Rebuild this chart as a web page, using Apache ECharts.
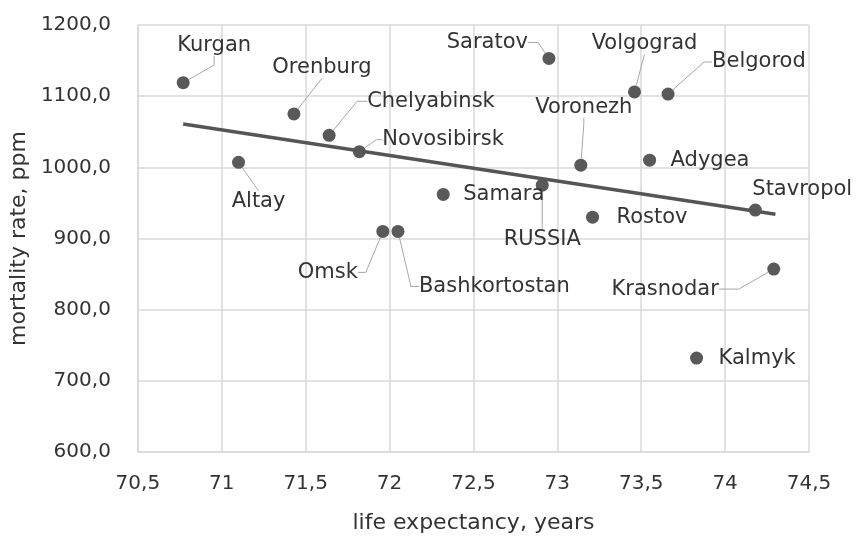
<!DOCTYPE html>
<html>
<head>
<meta charset="utf-8">
<script src="https://cdn.jsdelivr.net/npm/echarts@6/dist/echarts.min.js"></script>
<style>
  html, body { margin: 0; padding: 0; background: #fff; }
  #chart { width: 860px; height: 541px; }
</style>
</head>
<body>
<div id="chart"></div>
<script>
// data
const regions = ['Kurgan', 'Orenburg', 'Chelyabinsk', 'Novosibirsk', 'Altay', 'Omsk', 'Bashkortostan',
  'Samara', 'RUSSIA', 'Saratov', 'Volgograd', 'Belgorod', 'Voronezh', 'Adygea', 'Rostov',
  'Stavropol', 'Krasnodar', 'Kalmyk']
const lifeExpectancy = [70.77, 71.43, 71.64, 71.82, 71.10, 71.96, 72.05,
  72.32, 72.91, 72.95, 73.46, 73.66, 73.14, 73.55, 73.21,
  74.18, 74.29, 73.83]
const mortality = [1119, 1075, 1045, 1022, 1007, 910, 910,
  962, 975, 1153, 1106, 1103, 1003, 1010, 930,
  940, 857, 732]
const trendX = [70.77, 74.30]
const trendY = [1061, 934]

// label placement: [dx, dy, align, leader elbow length] (-1 = no leader)
const labelPlace = {
  Kurgan: [31, -37, 'center', 9],
  Orenburg: [28, -46, 'center', 0],
  Chelyabinsk: [38, -34, 'left', 10],
  Novosibirsk: [23, -12, 'left', 6],
  Altay: [20, 39, 'center', 0],
  Omsk: [-25, 41, 'right', 8],
  Bashkortostan: [21, 55, 'left', 8],
  Samara: [20, 0, 'left', -1],
  RUSSIA: [0, 54, 'center', 4],
  Saratov: [-21, -16, 'right', 10],
  Volgograd: [10, -48, 'center', 0],
  Belgorod: [44, -32, 'left', 8],
  Voronezh: [3, -58, 'center', 6],
  Adygea: [21, 0, 'left', -1],
  Rostov: [24, 0, 'left', -1],
  Stavropol: [-3, -20, 'left', -1],
  Krasnodar: [-55, 20, 'right', 20],
  Kalmyk: [22, 0, 'left', -1]
}

const font = 'DejaVu Sans'
const comma = v => String(v).replace('.', ',')

const points = regions.map((name, i) => {
  const p = labelPlace[name]
  return {
    name: name,
    value: [lifeExpectancy[i], mortality[i]],
    labelLine: { show: p[3] >= 0, length2: Math.max(p[3], 0) }
  }
})

const chart = echarts.init(document.getElementById('chart'))
chart.setOption({
  animation: false,
  grid: { left: 137, right: 51, top: 25, bottom: 89 },
  xAxis: {
    type: 'value',
    min: 70.5,
    max: 74.5,
    interval: 0.5,
    name: 'life expectancy, years',
    nameLocation: 'middle',
    nameGap: 60,
    nameTextStyle: { fontFamily: font, fontSize: 22, color: '#333' },
    axisLine: { lineStyle: { color: '#d9d9d9', width: 1.5 } },
    axisTick: { show: false },
    axisLabel: { fontFamily: font, fontSize: 20, color: '#333', margin: 22, formatter: comma },
    splitLine: { lineStyle: { color: '#d9d9d9', width: 1.5 } }
  },
  yAxis: {
    type: 'value',
    min: 600,
    max: 1200,
    interval: 100,
    name: 'mortality rate, ppm',
    nameLocation: 'middle',
    nameGap: 103,
    nameTextStyle: { fontFamily: font, fontSize: 22, color: '#333' },
    axisLine: { show: true, lineStyle: { color: '#d9d9d9', width: 1.5 } },
    axisTick: { show: false },
    axisLabel: { fontFamily: font, fontSize: 20, color: '#333', margin: 27,
      formatter: v => v.toFixed(1).replace('.', ',') },
    splitLine: { lineStyle: { color: '#d9d9d9', width: 1.5 } }
  },
  series: [
    {
      type: 'scatter',
      symbolSize: 13,
      itemStyle: { color: '#595959', opacity: 1 },
      data: points,
      label: {
        show: true,
        position: 'inside',
        formatter: '{b}',
        fontFamily: font,
        fontSize: 21,
        color: '#333',
        textBorderWidth: 0
      },
      labelLine: {
        show: true,
        lineStyle: { color: '#a6a6a6', width: 1 }
      },
      labelLayout: params => {
        const p = labelPlace[regions[params.dataIndex]]
        return { dx: p[0], dy: p[1], align: p[2], verticalAlign: 'middle' }
      }
    },
    {
      type: 'line',
      data: trendX.map((x, i) => [x, trendY[i]]),
      symbol: 'none',
      lineStyle: { color: '#555', width: 3.5 },
      z: 3
    }
  ]
})
</script>
</body>
</html>
